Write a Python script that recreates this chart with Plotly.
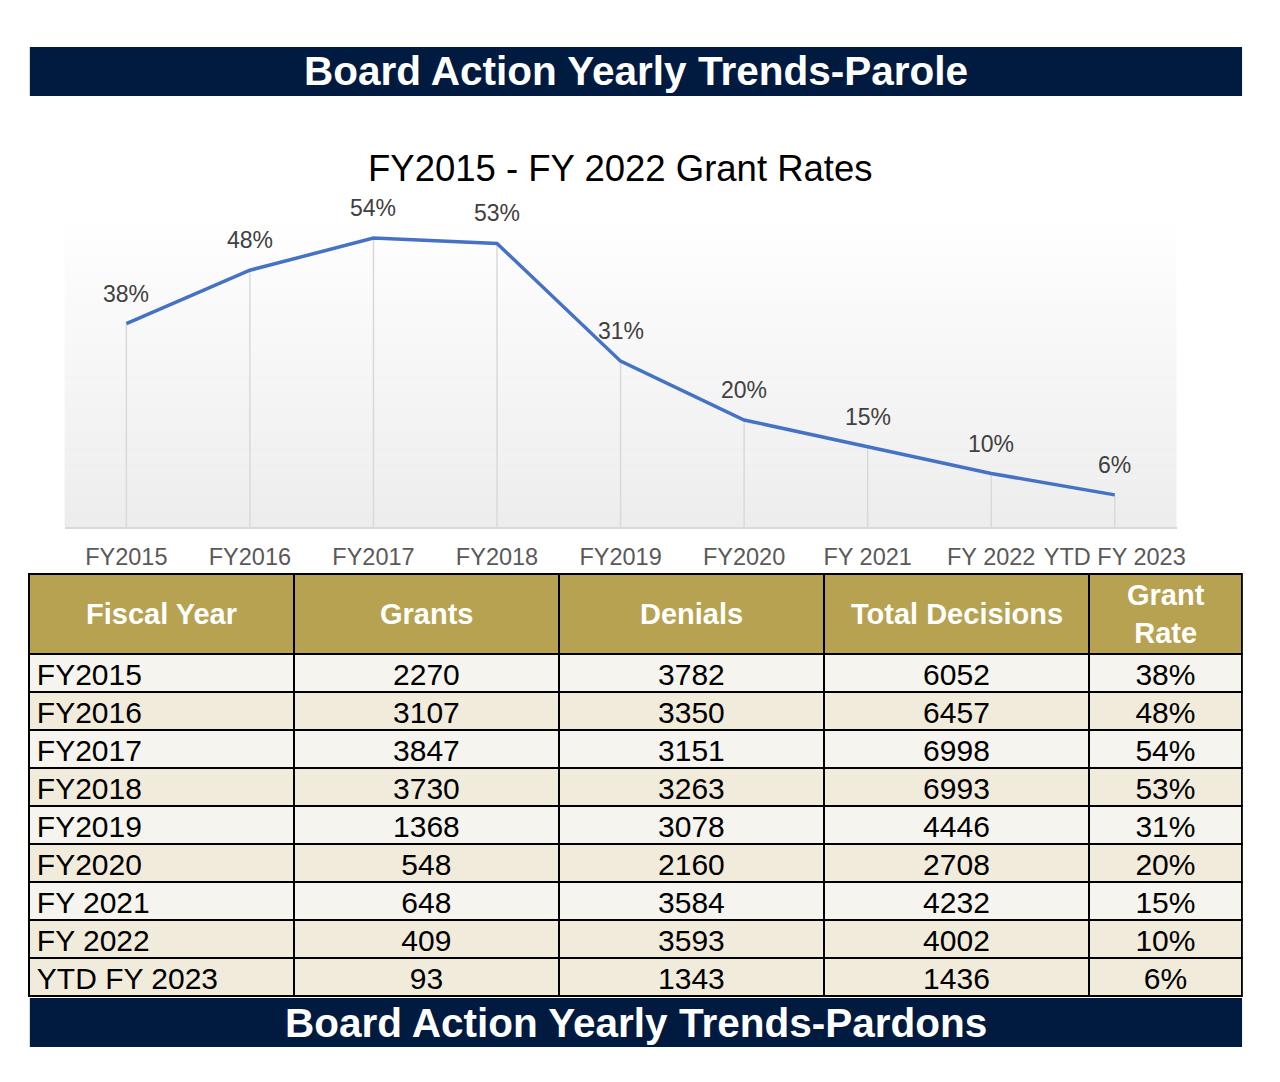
import plotly.graph_objects as go

# ---------------- data ----------------
categories = ["FY2015", "FY2016", "FY2017", "FY2018", "FY2019", "FY2020",
              "FY 2021", "FY 2022", "YTD FY 2023"]
grant_rate = [38, 48, 54, 53, 31, 20, 15, 10, 6]

table_years = ["FY2015", "FY2016", "FY2017", "FY2018", "FY2019", "FY2020",
               "FY 2021", "FY 2022", "YTD FY 2023"]
grants = [2270, 3107, 3847, 3730, 1368, 548, 648, 409, 93]
denials = [3782, 3350, 3151, 3263, 3078, 2160, 3584, 3593, 1343]
total_decisions = [6052, 6457, 6998, 6993, 4446, 2708, 4232, 4002, 1436]
rate_labels = ["38%", "48%", "54%", "53%", "31%", "20%", "15%", "10%", "6%"]
header_labels = ["Fiscal Year", "Grants", "Denials", "Total Decisions", "Grant<br>Rate"]

tick_labels = ["FY2015", "FY2016", "FY2017", "FY2018", "FY2019", "FY2020",
               "FY 2021", "FY 2022", "YTD FY 2023"]

# page is offset by the default 8px body margin; keep the figure small
# enough that the page never overflows the window
OFF = 8
W, H = 1250, 1050
FONT = "Liberation Sans, Arial, sans-serif"
NAVY = "#011A40"
GOLD = "#B6A250"
LIGHT = "#F6F4EE"
BEIGE = "#F1EBDC"
COL_EDGES = [29, 296, 563, 830, 1097, 1251]


def px(x):
    return (x - OFF) / W


def py(y):
    return 1 - (y - OFF) / H


fig = go.Figure()

# drop lines (from each point down to the axis)
fig.add_trace(go.Scatter(
    x=categories, y=grant_rate, mode="markers",
    marker=dict(size=1, color="rgba(0,0,0,0)"),
    error_y=dict(type="data", symmetric=False,
                 array=[0] * len(grant_rate), arrayminus=grant_rate,
                 color="#D9D9D9", thickness=1.5, width=0),
    hoverinfo="skip", showlegend=False,
))

# main line
fig.add_trace(go.Scatter(
    x=categories, y=grant_rate, mode="lines",
    line=dict(color="#4472C4", width=3.5),
    showlegend=False,
))

# data labels
for c, v in zip(categories, grant_rate):
    fig.add_annotation(x=c, y=v, text=f"{v}%", showarrow=False, yshift=30,
                       font=dict(family=FONT, size=23, color="#404040"))

# gradient plot background
top, bot = 206, 527
n = 40
for i in range(n):
    t = i / (n - 1)
    g = int(round(255 - (255 - 237) * t))
    y0 = top + (bot - top) * i / n
    y1 = top + (bot - top) * (i + 1) / n
    fig.add_shape(type="rect", xref="paper", yref="paper",
                  x0=px(65), x1=px(1185), y0=py(y1), y1=py(y0),
                  fillcolor=f"rgb({g},{g},{g})", line=dict(width=0),
                  layer="below")

# banners
for (y0, y1, txt) in [(47, 96, "Board Action Yearly Trends-Parole"),
                      (998, 1047, "Board Action Yearly Trends-Pardons")]:
    fig.add_shape(type="rect", xref="paper", yref="paper",
                  x0=px(30), x1=px(1251), y0=py(y1), y1=py(y0),
                  fillcolor=NAVY, line=dict(width=0), layer="above")
    fig.add_annotation(xref="paper", yref="paper", x=px(640.5), y=py((y0 + y1) / 2),
                       text=f"<b>{txt}</b>", showarrow=False,
                       font=dict(family=FONT, size=40.5, color="white"),
                       xanchor="center", yanchor="middle")

# chart title
fig.add_annotation(xref="paper", yref="paper", x=px(625), y=py(168),
                   text="FY2015 - FY 2022 Grant Rates", showarrow=False,
                   font=dict(family=FONT, size=36.5, color="#000000"),
                   xanchor="center", yanchor="middle")

# table
n_rows = len(table_years)
row_colors = [LIGHT if i % 2 == 0 else BEIGE for i in range(n_rows)]
row_colors[-1] = BEIGE
fig.add_trace(go.Table(
    domain=dict(x=[px(29), px(1251)], y=[py(997), py(574)]),
    columnwidth=[COL_EDGES[i + 1] - COL_EDGES[i] for i in range(5)],
    header=dict(values=[""] * 5,
                fill_color=GOLD, line=dict(color="black", width=2),
                align="center", height=80,
                font=dict(family=FONT, size=30, color="white")),
    cells=dict(values=[table_years, grants, denials, total_decisions, rate_labels],
               fill_color=[row_colors] * 5,
               line=dict(color="black", width=2),
               align=["left", "center", "center", "center", "center"],
               height=38,
               font=dict(family=FONT, size=30, color="black")),
))

# header labels, vertically centred in the header row
for i, h in enumerate(header_labels):
    fig.add_annotation(xref="paper", yref="paper",
                       x=px((COL_EDGES[i] + COL_EDGES[i + 1]) / 2), y=py(614),
                       text=f"<b>{h}</b>", showarrow=False,
                       xanchor="center", yanchor="middle",
                       font=dict(family=FONT, size=29, color="white"))

fig.update_layout(
    width=W, height=H,
    margin=dict(l=0, r=0, t=0, b=0),
    paper_bgcolor="white", plot_bgcolor="rgba(0,0,0,0)",
    showlegend=False,
    xaxis=dict(domain=[px(65), px(1185)], type="category",
               categoryorder="array", categoryarray=categories,
               range=[-0.5, len(categories) - 0.5],
               tickvals=categories, ticktext=tick_labels,
               showgrid=False, zeroline=False,
               showline=True, linecolor="#D9D9D9", linewidth=2,
               ticks="outside", ticklen=8, tickcolor="rgba(0,0,0,0)",
               tickfont=dict(family=FONT, size=23.5, color="#595959"),
               fixedrange=True),
    yaxis=dict(domain=[py(527), py(206)], range=[0, 60],
               showgrid=False, zeroline=False, showticklabels=False,
               showline=False, fixedrange=True),
)

fig.write_html("out.html")
